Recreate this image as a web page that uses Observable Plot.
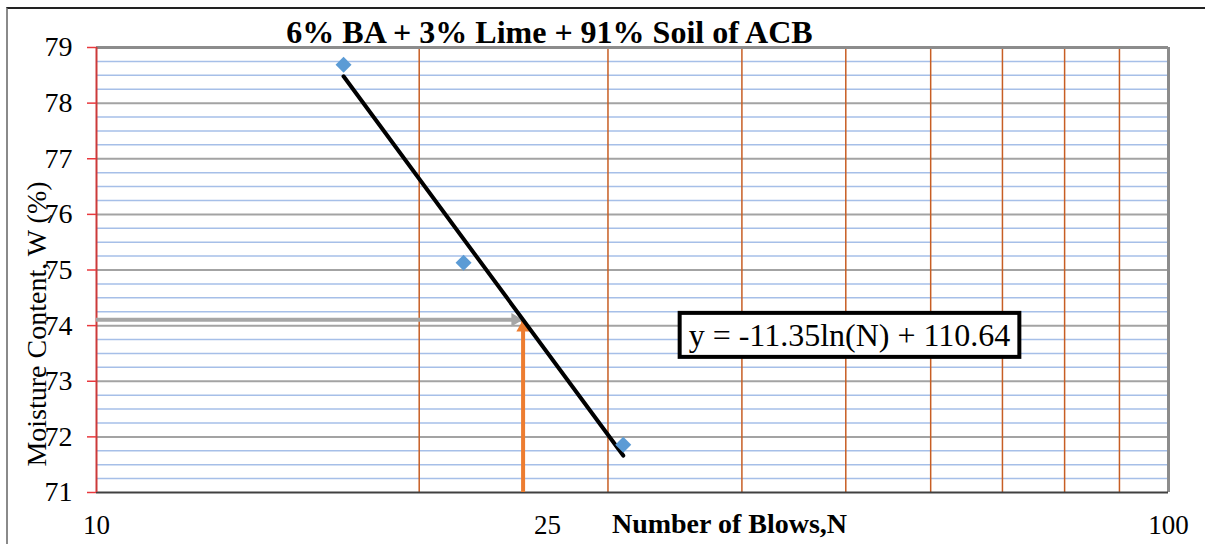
<!DOCTYPE html>
<html>
<head>
<meta charset="utf-8">
<script src="https://cdn.jsdelivr.net/npm/d3@7"></script>
<script src="https://cdn.jsdelivr.net/npm/@observablehq/plot@0.6"></script>
<style>
  html, body { margin: 0; padding: 0; background: #fff; }
  #wrap { position: relative; width: 1205px; height: 544px; overflow: hidden; }
  #edge { position: absolute; left: 6px; top: 7px; width: 1199px; height: 537px;
          border-top: 2px solid #222; border-left: 2px solid #8a8a8a; pointer-events: none; }
</style>
</head>
<body>
<div id="wrap"><div id="edge"></div></div>
<script>
// Liquid-limit test: moisture content against number of blows
const blows = [17, 22, 31];
const moisture = [78.69, 75.13, 71.86];

// Logarithmic trendline w = a·ln(N) + b
const slope = -11.35;
const intercept = 110.64;
const fitRange = [17, 31];
const targetBlows = 25;

const yTicks = [71, 72, 73, 74, 75, 76, 77, 78, 79];
const xTickLabels = [10, 100];
const xMarkerLabel = [25];
const verticalGrid = [20, 30, 40, 50, 60, 70, 80, 90];
const minorStep = 0.25;

const titleText = "6% BA + 3% Lime + 91% Soil of ACB";
const xTitle = "Number of Blows,N";
const yTitle = "Moisture Content, W (%)";
const equationText = `y = ${slope}ln(N) + ${intercept.toFixed(2)}`;

const points = blows.map((n, i) => ({n, w: moisture[i]}));
const fit = fitRange.map(n => ({n, w: intercept + slope * Math.log(n)}));
const targetW = intercept + slope * Math.log(targetBlows);

const minorY = d3.range(71, 79 + 1e-9, minorStep).filter(v => Math.abs(v - Math.round(v)) > 1e-6);
const majorY = d3.range(72, 79);

const serif = "'Liberation Serif', 'Times New Roman', Times, serif";

const chart = Plot.plot({
  width: 1205,
  height: 544,
  marginLeft: 96,
  marginRight: 37,
  marginTop: 47,
  marginBottom: 52,
  x: {type: "log", domain: [10, 100]},
  y: {domain: [71, 79]},
  style: {fontFamily: serif, background: "white", color: "black", overflow: "visible"},
  marks: [
    // grid
    Plot.ruleY(minorY, {stroke: "#a6bfe8", strokeWidth: 1.5}),
    Plot.ruleY(majorY, {stroke: "#a3a3a3", strokeWidth: 2}),
    Plot.ruleX(verticalGrid, {stroke: "#c75e24", strokeWidth: 1.5}),
    // frame
    Plot.ruleY([79], {stroke: "#8c8c8c", strokeWidth: 3}),
    Plot.ruleX([100], {stroke: "#8c8c8c", strokeWidth: 3}),
    Plot.ruleY([71], {stroke: "#404040", strokeWidth: 2}),
    Plot.ruleX([10], {stroke: "#cc3a3a", strokeWidth: 2}),
    // y ticks (labels drawn separately)
    Plot.axisY(yTicks, {tickSize: 9, stroke: "#e8383d", strokeWidth: 1.5,
      tickFormat: () => "", label: null}),
    Plot.axisX(xTickLabels, {tickSize: 0, tickFormat: () => "", label: null}),
    Plot.text(yTicks.map(v => ({n: 10, v})), {x: "n", y: "v", textAnchor: "end", dx: -24,
      text: d => String(d.v), fontSize: 28, fill: "black"}),
    // x labels
    Plot.text(xTickLabels.map(n => ({n, v: 71})), {x: "n", y: "v", lineAnchor: "top", dy: 22,
      text: d => String(d.n), fontSize: 27, fill: "black"}),
    Plot.text(xMarkerLabel.map(n => ({n, v: 71})), {x: "n", y: "v", lineAnchor: "top", dy: 22, dx: 24.5,
      text: d => String(d.n), fontSize: 27, fill: "black"}),
    // reading arrows at N = 25
    Plot.ruleY([{w: targetW, x1: 10, x2: targetBlows}], {y: "w", x1: "x1", x2: "x2",
      stroke: "#a6a6a6", strokeWidth: 4}),
    Plot.dot([{n: targetBlows, w: targetW}], {x: "n", y: "w", symbol: "triangle", r: 5,
      fill: "#a6a6a6", stroke: null, rotate: 90, dx: -7.8}),
    Plot.ruleX([{n: targetBlows, y1: 71, y2: targetW}], {x: "n", y1: "y1", y2: "y2",
      stroke: "#ed7d31", strokeWidth: 4}),
    Plot.dot([{n: targetBlows, w: targetW}], {x: "n", y: "w", symbol: "triangle", r: 5,
      fill: "#ed7d31", stroke: null, dy: 7.8}),
    // trendline and measurements
    Plot.line(fit, {x: "n", y: "w", stroke: "black", strokeWidth: 4, strokeLinecap: "round"}),
    Plot.dot(points, {x: "n", y: "w", symbol: "diamond2", r: 7.2, fill: "#5b9bd5", stroke: null}),
    // equation label
    Plot.text([equationText], {x: 50.4, y: 73.82, text: d => d, fontSize: 32, fill: "black"}),
    // titles
    Plot.text([titleText], {frameAnchor: "top", lineAnchor: "top", text: d => d, dx: -83, dy: -27,
      fontSize: 32, fontWeight: "bold", fill: "black"}),
    Plot.text([xTitle], {frameAnchor: "bottom", lineAnchor: "bottom", text: d => d, dx: 97, dy: 40,
      fontSize: 28, fontWeight: "bold", fill: "black"}),
    Plot.text([yTitle], {frameAnchor: "left", textAnchor: "middle", lineAnchor: "middle",
      text: d => d, rotate: -90, dx: -59, dy: 54, fontSize: 28, fill: "black"})
  ]
});

const wrap = document.getElementById("wrap");
wrap.insertBefore(chart, wrap.firstChild);

// white box with a heavy outline around the equation label, sized to its text
svgBoxAround(chart, equationText, 9, 4);

function svgBoxAround(svgNode, label, padX, padY) {
  d3.select(svgNode).selectAll("text").each(function() {
    if (this.textContent !== label) return;
    const b = this.getBBox();
    const g = this.closest("g[aria-label='text']") || this.parentNode;
    const m = this.getScreenCTM(), root = svgNode.getScreenCTM().inverse();
    const p1 = svgNode.createSVGPoint(); p1.x = b.x; p1.y = b.y;
    const p2 = svgNode.createSVGPoint(); p2.x = b.x + b.width; p2.y = b.y + b.height;
    const a = p1.matrixTransform(m).matrixTransform(root);
    const c = p2.matrixTransform(m).matrixTransform(root);
    d3.select(svgNode).insert("rect", () => g)
      .attr("x", a.x - padX).attr("y", a.y - padY)
      .attr("width", c.x - a.x + 2 * padX).attr("height", c.y - a.y + 2 * padY)
      .attr("fill", "white").attr("stroke", "black").attr("stroke-width", 4);
  });
}
</script>
</body>
</html>
